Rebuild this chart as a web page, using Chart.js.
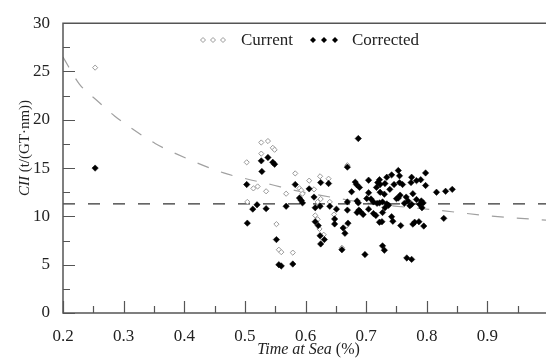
<!DOCTYPE html>
<html lang="en">
<head>
  <meta charset="UTF-8">
  <title>CII vs Time at Sea</title>
  <script src="https://cdn.jsdelivr.net/npm/chart.js"></script>
  <style>
    html, body { margin: 0; padding: 0; background: #fff; }
    #wrap { width: 551px; height: 364px; }
  </style>
</head>
<body>
  <div id="wrap"><canvas id="ciiChart"></canvas></div>

  <script>
    // Axis ticks
    const xTicks = [0.2, 0.3, 0.4, 0.5, 0.6, 0.7, 0.8, 0.9];
    const xMinor = [0.25, 0.35, 0.45, 0.55, 0.65, 0.75, 0.85, 0.95];
    const yTicks = [0, 5, 10, 15, 20, 25, 30];
    const yMinor = [2.5, 7.5, 12.5, 17.5, 22.5, 27.5];

    // Current CII (hollow markers)
    const currentX = [0.253, 0.503, 0.527, 0.538, 0.546, 0.549, 0.527, 0.504, 0.514, 0.521,
      0.535, 0.552, 0.556, 0.560, 0.579, 0.568, 0.583, 0.590, 0.593, 0.595,
      0.606, 0.614, 0.624, 0.638, 0.625, 0.620, 0.640, 0.616, 0.620, 0.623,
      0.630, 0.647, 0.668, 0.660, 0.669];
    const currentY = [25.4, 15.6, 17.65, 17.8, 17.1, 16.9, 16.5, 11.5, 12.9, 13.1,
      12.6, 9.2, 6.55, 6.3, 6.25, 12.35, 14.45, 12.9, 12.7, 12.35,
      13.7, 12.8, 14.15, 13.9, 11.8, 11.5, 11.5, 10.1, 9.7, 8.7,
      8.1, 10.2, 9.05, 6.75, 15.3];

    // Corrected CII (filled markers)
    const correctedX = [0.253, 0.538, 0.527, 0.546, 0.549, 0.528, 0.503, 0.583, 0.625, 0.638,
      0.606, 0.669, 0.687, 0.590, 0.593, 0.595, 0.614, 0.520, 0.513, 0.535,
      0.568, 0.504, 0.552, 0.556, 0.560, 0.579, 0.616, 0.624, 0.616, 0.621,
      0.624, 0.631, 0.625, 0.640, 0.648, 0.648, 0.651, 0.669, 0.670, 0.662,
      0.665, 0.660, 0.669, 0.676, 0.682, 0.684, 0.689, 0.698, 0.704, 0.687,
      0.685, 0.690, 0.695, 0.688, 0.704, 0.712, 0.716, 0.704, 0.701, 0.708,
      0.717, 0.685, 0.719, 0.722, 0.723, 0.731, 0.734, 0.742, 0.753, 0.755,
      0.746, 0.755, 0.760, 0.775, 0.774, 0.783, 0.790, 0.798, 0.798, 0.739,
      0.723, 0.730, 0.756, 0.753, 0.766, 0.777, 0.783, 0.769, 0.791, 0.794,
      0.788, 0.792, 0.816, 0.831, 0.842, 0.722, 0.727, 0.734, 0.731, 0.737,
      0.775, 0.772, 0.727, 0.722, 0.726, 0.742, 0.744, 0.757, 0.777, 0.780,
      0.787, 0.795, 0.828, 0.727, 0.730, 0.767, 0.775, 0.712, 0.718, 0.763,
      0.750];
    const correctedY = [15.0, 16.1, 15.75, 15.6, 15.4, 14.65, 13.3, 13.3, 13.5, 13.4,
      12.85, 15.1, 18.06, 11.9, 11.65, 11.4, 12.0, 11.2, 10.75, 10.8,
      11.05, 9.3, 7.6, 5.0, 4.87, 5.07, 10.9, 11.05, 9.45, 9.05,
      8.0, 7.6, 7.15, 11.05, 9.73, 9.22, 10.75, 10.65, 9.3, 8.8,
      8.25, 6.55, 11.5, 12.55, 13.55, 13.3, 13.0, 6.05, 13.75, 11.4,
      10.4, 10.5, 10.2, 10.65, 10.75, 10.3, 10.1, 12.45, 11.85, 11.8,
      13.0, 11.6, 13.5, 13.8, 13.3, 13.4, 14.05, 14.3, 14.75, 14.2,
      13.3, 13.5, 13.3, 14.05, 13.5, 13.7, 13.8, 14.5, 13.2, 12.8,
      12.5, 12.3, 12.2, 11.9, 12.0, 12.35, 11.75, 11.6, 11.6, 11.4,
      11.25, 10.9, 12.5, 12.6, 12.8, 11.4, 11.5, 11.3, 10.9, 11.15,
      11.25, 11.1, 10.4, 9.4, 9.45, 9.97, 9.5, 9.05, 9.2, 9.4,
      9.45, 9.0, 9.8, 6.95, 6.5, 5.7, 5.55, 11.5, 11.35, 11.35,
      11.84];

    const fitX = [0.2, 0.227, 0.256, 0.285, 0.316, 0.352, 0.386, 0.465, 0.502, 0.543,
      0.582, 0.623, 0.66, 0.698, 0.747, 0.824, 0.904, 1.0];
    const fitY = [26.5, 23.7, 22.0, 20.4, 19.0, 17.55, 16.5, 14.5, 13.9, 13.3,
      12.7, 12.2, 11.8, 11.4, 11.07, 10.6, 10.05, 9.6];
    const refX = [0.2, 1.0];
    const refY = [11.3, 11.3];

    const toPoints = (xs, ys) => xs.map((x, i) => ({ x: x, y: ys[i] }));

    const serif = '"Liberation Serif", "Times New Roman", serif';
    const textColor = '#222';

    function diamond(ctx, cx, cy, r, fill, stroke) {
      ctx.beginPath();
      ctx.moveTo(cx, cy - r);
      ctx.lineTo(cx + r, cy);
      ctx.lineTo(cx, cy + r);
      ctx.lineTo(cx - r, cy);
      ctx.closePath();
      ctx.fillStyle = fill;
      ctx.fill();
      if (stroke) {
        ctx.lineWidth = 1;
        ctx.strokeStyle = stroke;
        ctx.stroke();
      }
    }

    // Axis frame with inward major/minor ticks, axis titles and the legend
    const decorPlugin = {
      id: 'decor',
      afterDraw(chart) {
        const { ctx, chartArea: a, scales: { x, y } } = chart;
        ctx.save();

        ctx.strokeStyle = '#555';
        ctx.lineWidth = 1.5;
        ctx.beginPath();
        ctx.moveTo(a.right, a.top);
        ctx.lineTo(a.left, a.top);
        ctx.lineTo(a.left, a.bottom);
        ctx.lineTo(a.right, a.bottom);
        ctx.stroke();

        ctx.lineWidth = 1.2;
        ctx.beginPath();
        const xTick = (v, len) => {
          const p = Math.round(x.getPixelForValue(v)) + 0.5;
          ctx.moveTo(p, a.bottom);
          ctx.lineTo(p, a.bottom - len);
        };
        const yTick = (v, len) => {
          const p = Math.round(y.getPixelForValue(v)) + 0.5;
          ctx.moveTo(a.left, p);
          ctx.lineTo(a.left + len, p);
        };
        xTicks.forEach(v => xTick(v, 12));
        xMinor.forEach(v => xTick(v, 7));
        yTicks.forEach(v => yTick(v, 12));
        yMinor.forEach(v => yTick(v, 7));
        ctx.stroke();

        // x title
        ctx.fillStyle = textColor;
        ctx.textBaseline = 'middle';
        ctx.textAlign = 'left';
        const xA = 'Time at Sea', xB = ' (%)';
        ctx.font = 'italic 16px ' + serif;
        const wA = ctx.measureText(xA).width;
        ctx.font = '16px ' + serif;
        const wB = ctx.measureText(xB).width;
        let sx = (a.left + a.right) / 2 + 4 - (wA + wB) / 2;
        ctx.font = 'italic 16px ' + serif;
        ctx.fillText(xA, sx, 350);
        ctx.font = '16px ' + serif;
        ctx.fillText(xB, sx + wA, 350);

        // y title
        ctx.save();
        ctx.translate(25, 148);
        ctx.rotate(-Math.PI / 2);
        const yA = 'CII', yB = ' (t/(GT\u00B7nm))';
        ctx.font = 'italic 15px ' + serif;
        const hA = ctx.measureText(yA).width;
        ctx.font = '15px ' + serif;
        const hB = ctx.measureText(yB).width;
        sx = -(hA + hB) / 2;
        ctx.font = 'italic 15px ' + serif;
        ctx.fillText(yA, sx, 0);
        ctx.font = '15px ' + serif;
        ctx.fillText(yB, sx + hA, 0);
        ctx.restore();

        // legend
        const ly = 40;
        [203, 213, 223].forEach(px => diamond(ctx, px, ly, 2.5, '#fff', '#999'));
        [313, 324, 335].forEach(px => diamond(ctx, px, ly, 3, '#000', null));
        ctx.fillStyle = textColor;
        ctx.font = '17px ' + serif;
        ctx.textAlign = 'left';
        ctx.fillText('Current', 241, ly + 1);
        ctx.fillText('Corrected', 352, ly + 1);

        ctx.restore();
      }
    };

    const ctx = document.getElementById('ciiChart').getContext('2d');
    const ciiChart = new Chart(ctx, {
      type: 'scatter',
      data: {
        datasets: [
          {
            label: 'Fit',
            data: toPoints(fitX, fitY),
            showLine: true,
            borderColor: '#a0a0a0',
            borderWidth: 1.2,
            borderDash: [12, 13],
            pointRadius: 0,
            tension: 0.4,
            cubicInterpolationMode: 'monotone',
            order: 4
          },
          {
            label: 'Reference',
            data: toPoints(refX, refY),
            showLine: true,
            borderColor: '#333',
            borderWidth: 1.4,
            borderDash: [12, 13],
            pointRadius: 0,
            order: 3
          },
          {
            label: 'Current',
            data: toPoints(currentX, currentY),
            pointStyle: 'rectRot',
            pointRadius: 2.6,
            backgroundColor: '#fff',
            borderColor: '#999',
            borderWidth: 1,
            order: 2
          },
          {
            label: 'Corrected',
            data: toPoints(correctedX, correctedY),
            pointStyle: 'rectRot',
            pointRadius: 3.2,
            backgroundColor: '#000',
            borderColor: '#000',
            borderWidth: 0.5,
            order: 1
          }
        ]
      },
      options: {
        responsive: true,
        maintainAspectRatio: false,
        animation: false,
        devicePixelRatio: 1,
        layout: { padding: { top: 18, right: 0, left: 0, bottom: 0 } },
        plugins: {
          legend: { display: false },
          tooltip: { enabled: false }
        },
        scales: {
          x: {
            type: 'linear',
            min: 0.2,
            max: 0.9966,
            afterBuildTicks: s => { s.ticks = xTicks.map(v => ({ value: v })); },
            afterFit: s => { s.height = 51; },
            grid: { display: false, drawTicks: false },
            border: { display: false },
            ticks: {
              padding: 13,
              color: textColor,
              font: { family: serif, size: 17 },
              maxRotation: 0,
              callback: v => v.toFixed(1)
            }
          },
          y: {
            min: 0,
            max: 30,
            afterBuildTicks: s => { s.ticks = yTicks.map(v => ({ value: v })); },
            afterFit: s => { s.width = 63; },
            grid: { display: false, drawTicks: false },
            border: { display: false },
            ticks: {
              padding: 13,
              color: textColor,
              font: { family: serif, size: 17 }
            }
          }
        }
      },
      plugins: [decorPlugin]
    });
  </script>
</body>
</html>
